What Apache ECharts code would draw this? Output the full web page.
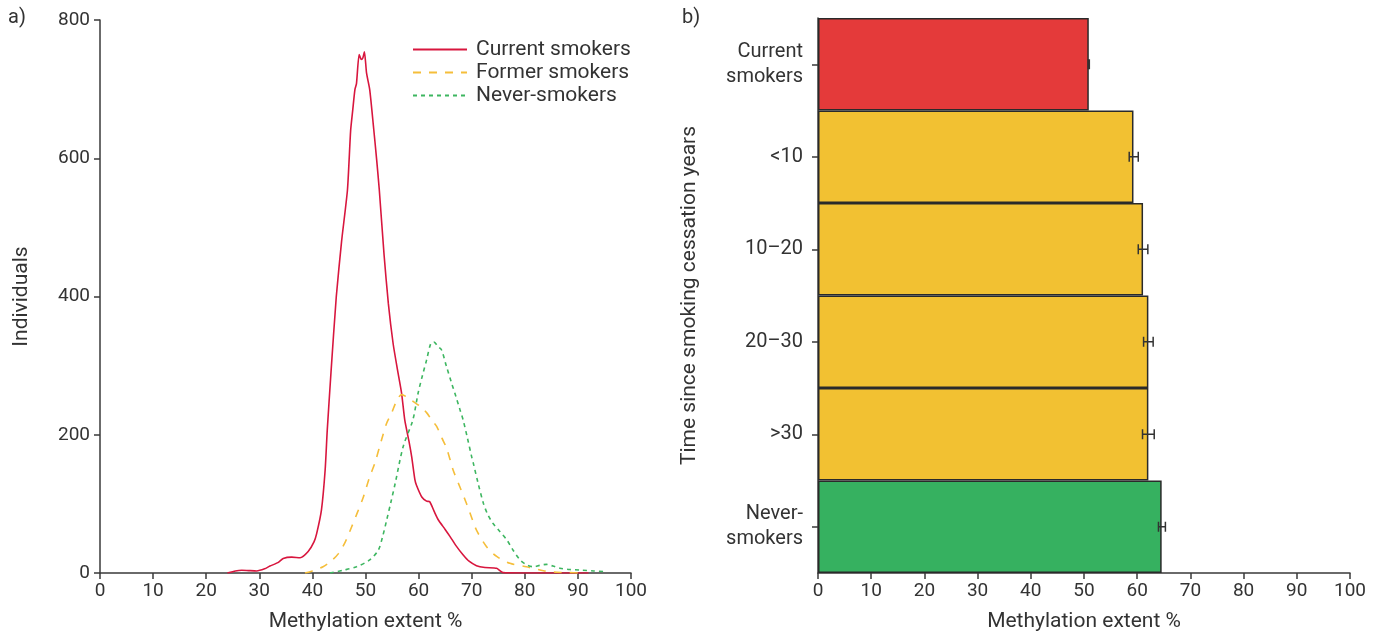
<!DOCTYPE html>
<html>
<head>
<meta charset="utf-8">
<script src="https://cdn.jsdelivr.net/npm/echarts@6/dist/echarts.min.js"></script>
<style>
  html, body { margin: 0; padding: 0; background: #fff; }
  #chart { width: 1383px; height: 639px; }
</style>
</head>
<body>
<div id="chart"></div>
<script>
// Panel a: distribution of methylation extent, [methylation %, individuals]
const currentSmokers = [
  [24,0],[25.5,3],[26.7,4],[28,3.5],[29.5,3],[31,6],[32,10],[33.5,15],[34.5,21],[36.1,23],
  [37.7,22],[39.2,31],[40.3,45],[40.8,57],[41.7,91],[42.4,149],[42.8,207],[43.5,290],[44.5,400],
  [45.5,480],[46.6,554],[47.2,640],[47.6,670],[48,699],[48.3,708],[48.8,750],[49.2,743],[49.5,745],
  [49.8,754],[50.2,723],[50.8,699],[51.5,646],[52.1,598],[52.6,554],[53.5,460],[54.3,390],[55.2,332],
  [56,295],[56.8,260],[57.4,221],[58.2,190],[58.7,168],[59.3,135],[59.6,127],[60.6,110],[61.5,104],
  [62.1,103],[63,88],[63.7,77],[65,63],[65.9,53],[67,40],[68.4,26],[69.5,17],[70.9,10.6],[72.5,8],
  [74.7,6.8],[75.9,0.5],[80,0],[92,0]
];
const formerSmokers = [
  [38.6,0],[40,3],[42,9],[43.5,17],[44.9,28],[46.2,45],[47.4,67],[48.5,88],[49.6,110],[50.7,137],
  [51.8,160],[53,192],[54,217],[54.9,231],[55.8,248],[56.8,258],[57.7,255],[59,248],[60.3,241],
  [61.5,232],[62.5,221],[63.4,212],[64.4,195],[65.3,180],[66.5,149],[67.8,124],[69,101],[70,80],
  [70.9,62],[72.8,38],[74.7,24],[77.2,14],[80.3,9],[83.5,3.3],[86,1],[88.5,0.5],[90,0]
];
const neverSmokers = [
  [43.3,0],[45.8,4],[48.3,9],[50.8,19],[52.4,33],[53.2,52],[54,77],[54.8,103],[55.6,130],[57.1,183],
  [58.9,221],[59.9,260],[60.7,285],[61.5,308],[62.3,332],[62.9,334],[63.6,328],[64.3,323],[65.2,300],
  [66.2,275],[67,256],[67.8,236],[68.4,221],[69.2,195],[70,168],[70.3,159],[71.2,130],[72.2,101],
  [73,85],[74,72],[75.3,60],[76.6,48],[77.8,33],[79.1,19],[80.3,12],[81.6,9],[82.8,11],[84.1,12.5],
  [85.3,10],[86.6,7],[88.5,5],[90.4,4.3],[93,3],[95.4,2]
];

// Panel b: mean methylation extent by time since smoking cessation
const groupLabels = ['Current\nsmokers', '<10', '10–20', '20–30', '>30', 'Never-\nsmokers'];
const groupMeans  = [50.9, 59.3, 61.1, 62.1, 62.1, 64.6];
const groupLow    = [50.8, 58.5, 60.2, 61.2, 61.0, 64.0];
const groupHigh   = [51.0, 60.2, 62.0, 63.0, 63.2, 65.3];
const groupColors = ['#e43a3a', '#f2c132', '#f2c132', '#f2c132', '#f2c132', '#36b160'];

const FONT = 'Roboto';
const TXT = '#333';
const AX = '#3a3a3a';

const chart = echarts.init(document.getElementById('chart'));

const axisLine = { show: true, lineStyle: { color: AX, width: 1.5 } };
const axisTick = { show: true, length: 6, lineStyle: { color: AX, width: 1.5 } };
const axisLabel = { color: TXT, fontFamily: FONT, fontSize: 19 };
const nameText = { color: TXT, fontFamily: FONT, fontSize: 21 };

chart.setOption({
  animation: false,
  backgroundColor: '#fff',
  textStyle: { fontFamily: FONT },
  graphic: [
    { type: 'text', left: 8, top: 8, style: { text: 'a)', fontFamily: FONT, fontSize: 20, fill: TXT } },
    { type: 'text', left: 682, top: 8, style: { text: 'b)', fontFamily: FONT, fontSize: 20, fill: TXT } }
  ],
  legend: {
    orient: 'vertical',
    left: 407,
    top: 34,
    itemWidth: 54,
    itemHeight: 14,
    itemGap: 2,
    itemStyle: { opacity: 0 },
    textStyle: { color: TXT, fontFamily: FONT, fontSize: 21, padding: [0, 0, 0, 4] },
    data: ['Current smokers', 'Former smokers', 'Never-smokers']
  },
  grid: [
    { left: 100, right: 752, top: 20, bottom: 66 },
    { left: 818, right: 33, top: 18, bottom: 66 }
  ],
  xAxis: [
    {
      gridIndex: 0, type: 'value', min: 0, max: 100, interval: 10,
      name: 'Methylation extent %', nameLocation: 'middle', nameGap: 38, nameTextStyle: nameText,
      axisLine, axisTick, axisLabel: { ...axisLabel, margin: 9 }, splitLine: { show: false }
    },
    {
      gridIndex: 1, type: 'value', min: 0, max: 100, interval: 10,
      name: 'Methylation extent %', nameLocation: 'middle', nameGap: 38, nameTextStyle: nameText,
      axisLine, axisTick, axisLabel: { ...axisLabel, margin: 9 }, splitLine: { show: false }
    }
  ],
  yAxis: [
    {
      gridIndex: 0, type: 'value', min: 0, max: 800, interval: 200,
      name: 'Individuals', nameLocation: 'middle', nameGap: 68, nameTextStyle: nameText,
      axisLine, axisTick, axisLabel: { ...axisLabel, margin: 10 }, splitLine: { show: false }
    },
    {
      gridIndex: 1, type: 'category', inverse: true, data: groupLabels,
      name: 'Time since smoking cessation years', nameLocation: 'middle', nameGap: 118,
      nameTextStyle: nameText,
      axisLine, axisTick: { ...axisTick, alignWithLabel: true },
      axisLabel: { ...axisLabel, fontSize: 20, margin: 15, lineHeight: 25, align: 'right' }
    }
  ],
  series: [
    {
      name: 'Current smokers', type: 'line', xAxisIndex: 0, yAxisIndex: 0,
      data: currentSmokers, symbol: 'none', smooth: 0.2,
      lineStyle: { color: '#d8163e', width: 1.6 }, itemStyle: { color: '#d8163e' }
    },
    {
      name: 'Former smokers', type: 'line', xAxisIndex: 0, yAxisIndex: 0,
      data: formerSmokers, symbol: 'none', smooth: 0.3,
      lineStyle: { color: '#f5be3a', width: 1.6, type: [8, 8] }, itemStyle: { color: '#f5be3a' }
    },
    {
      name: 'Never-smokers', type: 'line', xAxisIndex: 0, yAxisIndex: 0,
      data: neverSmokers, symbol: 'none', smooth: 0.3,
      lineStyle: { color: '#3db660', width: 1.6, type: [4, 4] }, itemStyle: { color: '#3db660' }
    },
    {
      type: 'bar', xAxisIndex: 1, yAxisIndex: 1,
      barCategoryGap: '0%',
      data: groupMeans.map((v, i) => ({ value: v, itemStyle: { color: groupColors[i] } })),
      itemStyle: { borderColor: '#2a2a2a', borderWidth: 1.5 }
    },
    {
      type: 'custom', xAxisIndex: 1, yAxisIndex: 1,
      data: groupLow.map((lo, i) => [i, lo, groupHigh[i]]),
      renderItem: function (params, api) {
        const idx = api.value(0);
        const p1 = api.coord([api.value(1), idx]);
        const p2 = api.coord([api.value(2), idx]);
        const h = 5;
        const style = { stroke: '#333', lineWidth: 1.5 };
        return {
          type: 'group',
          children: [
            { type: 'line', shape: { x1: p1[0], y1: p1[1], x2: p2[0], y2: p2[1] }, style },
            { type: 'line', shape: { x1: p1[0], y1: p1[1] - h, x2: p1[0], y2: p1[1] + h }, style },
            { type: 'line', shape: { x1: p2[0], y1: p2[1] - h, x2: p2[0], y2: p2[1] + h }, style }
          ]
        };
      },
      z: 5
    }
  ]
});
</script>
</body>
</html>
